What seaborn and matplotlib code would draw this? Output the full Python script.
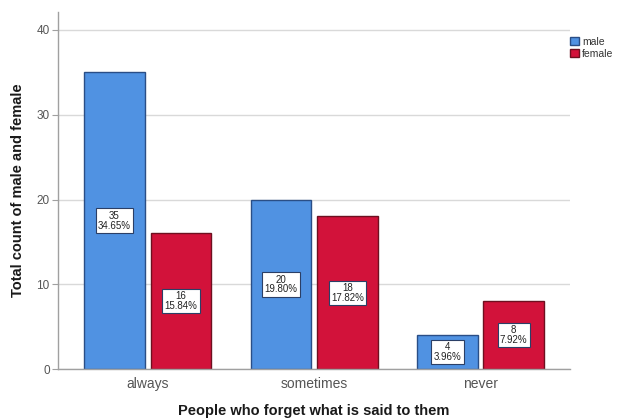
import matplotlib
matplotlib.use("Agg")
import matplotlib.pyplot as plt
import seaborn as sns
import pandas as pd
from matplotlib.patches import Patch

categories = ["always", "sometimes", "never"]
genders = ["male", "female"]
male_counts = [35, 20, 4]
female_counts = [16, 18, 8]

rows = []
for cat, m, f in zip(categories, male_counts, female_counts):
    rows.append({"answer": cat, "gender": "male", "count": m})
    rows.append({"answer": cat, "gender": "female", "count": f})
df = pd.DataFrame(rows)
total = df["count"].sum()

sns.set_style("white")
plt.rcParams["font.family"] = ["Liberation Sans", "DejaVu Sans"]

fill = {"male": "#5092E2", "female": "#D2123A"}
edge = {"male": "#2A4E86", "female": "#6E1020"}

fig = plt.figure(figsize=(6.21, 4.18), dpi=100)
ax = fig.add_axes([0.0934, 0.117, 0.825, 0.854])

sns.barplot(data=df, x="answer", y="count", hue="gender", order=categories,
            hue_order=genders, palette=fill, width=0.8, gap=0.09,
            legend=False, ax=ax, saturation=1)

for container, g in zip(ax.containers, genders):
    for bar in container:
        bar.set_edgecolor(edge[g])
        bar.set_linewidth(1.0)
        h = bar.get_height()
        cx = bar.get_x() + bar.get_width() / 2
        ax.text(cx, h / 2, f"{int(h)}\n{h / total * 100:.2f}%",
                ha="center", va="center", fontsize=7, color="#222222",
                linespacing=0.95,
                bbox=dict(boxstyle="square,pad=0.25", fc="white",
                          ec="#2B3F66", lw=0.8), zorder=5)

ax.set_ylim(0, 42.1)
ax.set_xlim(-0.54, 2.54)
ax.set_yticks([0, 10, 20, 30, 40])
ax.yaxis.grid(True, color="#D9D9D9", linewidth=1.0)
ax.set_axisbelow(True)

for side in ["top", "right"]:
    ax.spines[side].set_visible(False)
for side in ["left", "bottom"]:
    ax.spines[side].set_color("#A0A0A0")
    ax.spines[side].set_linewidth(1.0)

ax.tick_params(axis="y", length=4, color="#A0A0A0", labelsize=8.5,
               labelcolor="#555555", pad=2, left=True)
ax.tick_params(axis="x", length=0, labelsize=10, labelcolor="#555555", pad=6)

ax.set_ylabel("Total count of male and female", fontsize=10.5,
              fontweight="bold", color="#1A1A1A", labelpad=8)
ax.set_xlabel("People who forget what is said to them", fontsize=10.5,
              fontweight="bold", color="#1A1A1A", labelpad=9)

handles = [Patch(facecolor=fill[g], edgecolor=edge[g], label=g) for g in genders]
fig.legend(handles=handles, loc="upper left", bbox_to_anchor=(0.916, 0.915),
           frameon=False, fontsize=7.5, handlelength=0.9, handleheight=0.9,
           handletextpad=0.3, labelspacing=0.2, borderpad=0.1,
           borderaxespad=0.0, labelcolor="#333333")

fig.savefig("out.png", dpi=100)
